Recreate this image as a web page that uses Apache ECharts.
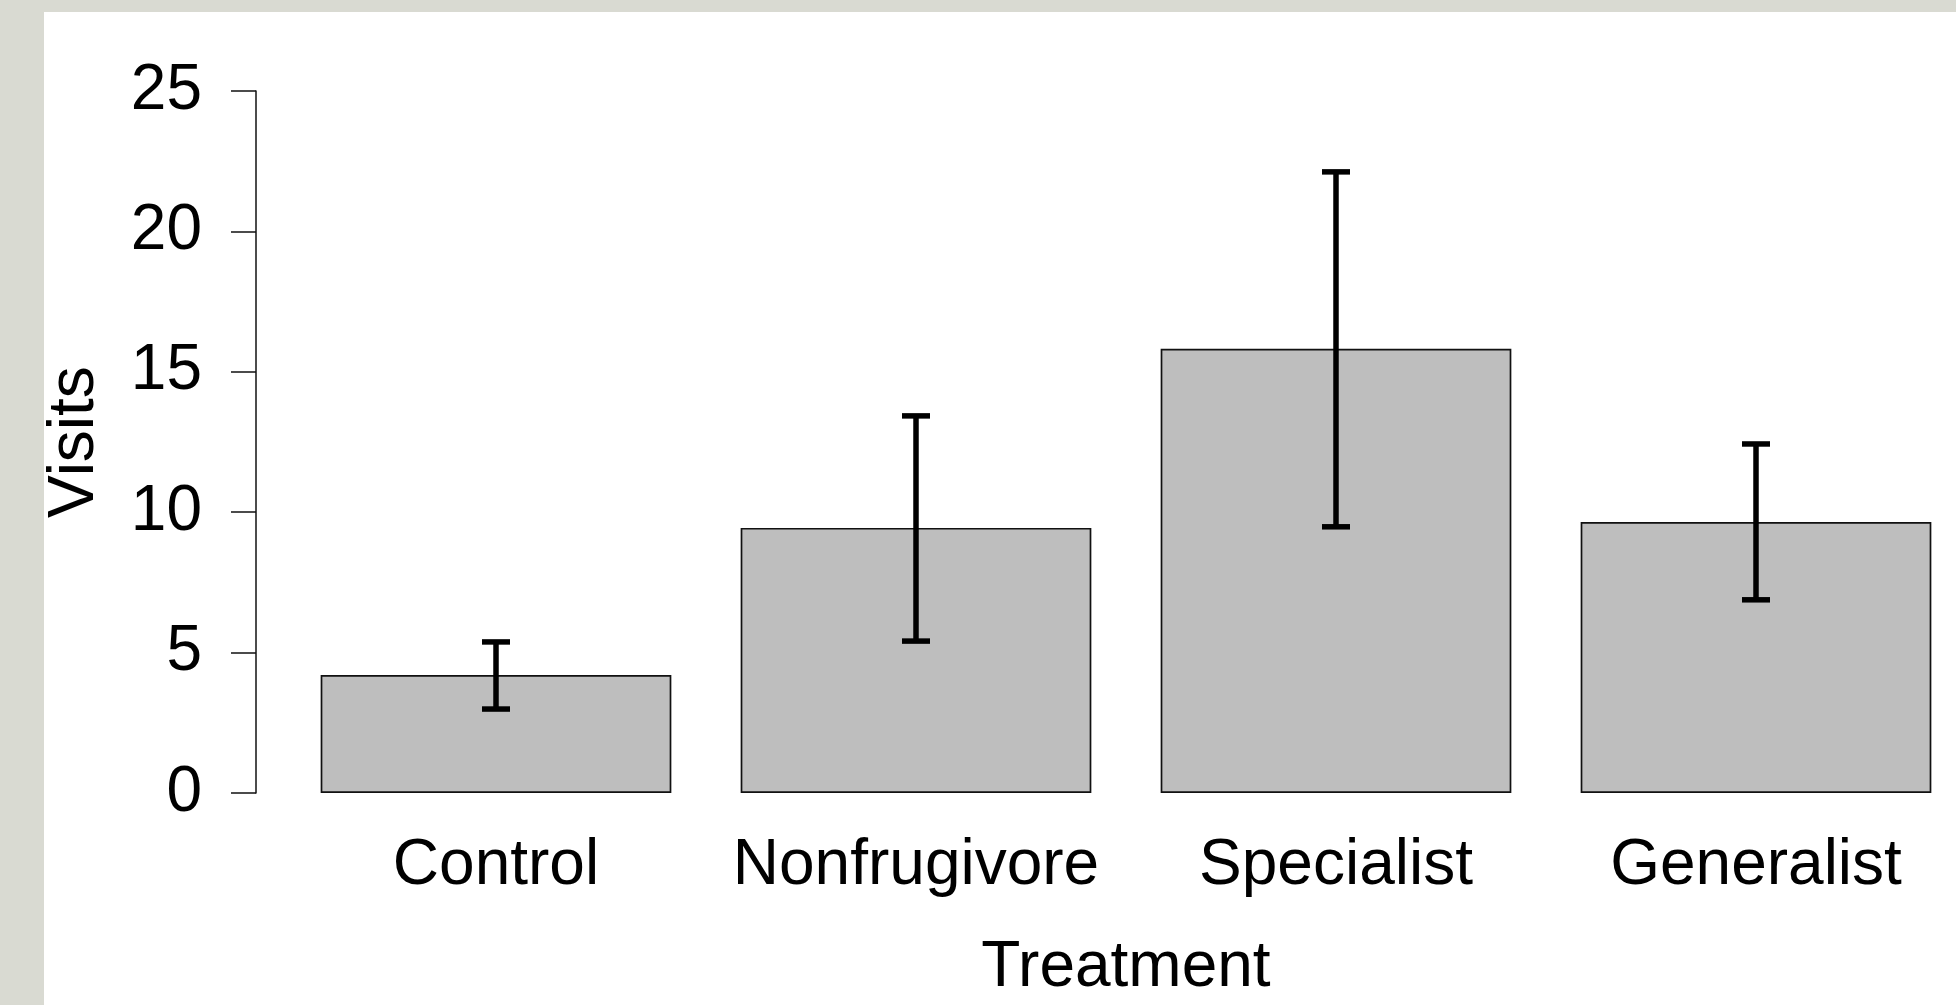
<!DOCTYPE html>
<html>
<head>
<meta charset="utf-8">
<script src="https://cdn.jsdelivr.net/npm/echarts@6/dist/echarts.min.js"></script>
<style>
  html, body { margin: 0; padding: 0; width: 1956px; height: 1005px; overflow: hidden; background: #d9dad2; }
  #chart { position: absolute; left: 44px; top: 12px; width: 1912px; height: 993px; background: #ffffff; }
</style>
</head>
<body>
<div id="chart"></div>
<script>
const categories = ['Control', 'Nonfrugivore', 'Specialist', 'Generalist'];
const meanVisits = [4.2, 9.44, 15.82, 9.65];
const lowerBound = [2.99, 5.41, 9.48, 6.88];
const upperBound = [5.38, 13.43, 22.12, 12.43];
const yTicks = { min: 0, max: 25, interval: 5 };

const FONT = "'Liberation Sans', Arial, sans-serif";
const errData = categories.map((c, i) => [i, lowerBound[i], upperBound[i]]);

const chart = echarts.init(document.getElementById('chart'), null, { renderer: 'canvas' });
chart.setOption({
  animation: false,
  backgroundColor: '#ffffff',
  grid: { left: 242, top: 79, width: 1680, height: 702, containLabel: false, outerBoundsMode: 'none' },
  xAxis: {
    type: 'category',
    data: categories,
    boundaryGap: true,
    axisLine: { show: false },
    axisTick: { show: false },
    axisLabel: { interval: 0, hideOverlap: false, fontFamily: FONT, fontSize: 64, lineHeight: 64, color: '#000', margin: 41 },
    name: 'Treatment',
    nameLocation: 'middle',
    nameGap: 143,
    nameTextStyle: { fontFamily: FONT, fontSize: 64, lineHeight: 64, color: '#000' }
  },
  yAxis: {
    type: 'value',
    min: yTicks.min, max: yTicks.max, interval: yTicks.interval,
    offset: 30,
    splitLine: { show: false },
    axisLine: { show: true, lineStyle: { color: '#111', width: 1.5 } },
    axisTick: { show: true, length: 25, lineStyle: { color: '#111', width: 1.5 } },
    axisLabel: { fontFamily: FONT, fontSize: 64, color: '#000', margin: 54, padding: [8, 0, 0, 0] },
    name: 'Visits',
    nameLocation: 'middle',
    nameRotate: 90,
    nameGap: 149,
    nameTextStyle: { fontFamily: FONT, fontSize: 64, lineHeight: 64, color: '#000' }
  },
  series: [
    {
      type: 'bar',
      data: meanVisits,
      barWidth: '83.5%',
      itemStyle: { color: '#bebebe', borderColor: '#111', borderWidth: 1.7 },
      z: 2
    },
    {
      type: 'custom',
      data: errData,
      z: 5,
      renderItem: function (params, api) {
        const lo = api.coord([api.value(0), api.value(1)]);
        const hi = api.coord([api.value(0), api.value(2)]);
        const hw = 14;
        const style = { stroke: '#000', lineWidth: 5.5, lineCap: 'butt' };
        return {
          type: 'group',
          children: [
            { type: 'line', shape: { x1: lo[0], y1: lo[1], x2: hi[0], y2: hi[1] }, style: style },
            { type: 'line', shape: { x1: hi[0] - hw, y1: hi[1], x2: hi[0] + hw, y2: hi[1] }, style: style },
            { type: 'line', shape: { x1: lo[0] - hw, y1: lo[1], x2: lo[0] + hw, y2: lo[1] }, style: style }
          ]
        };
      }
    }
  ]
});
</script>
</body>
</html>
